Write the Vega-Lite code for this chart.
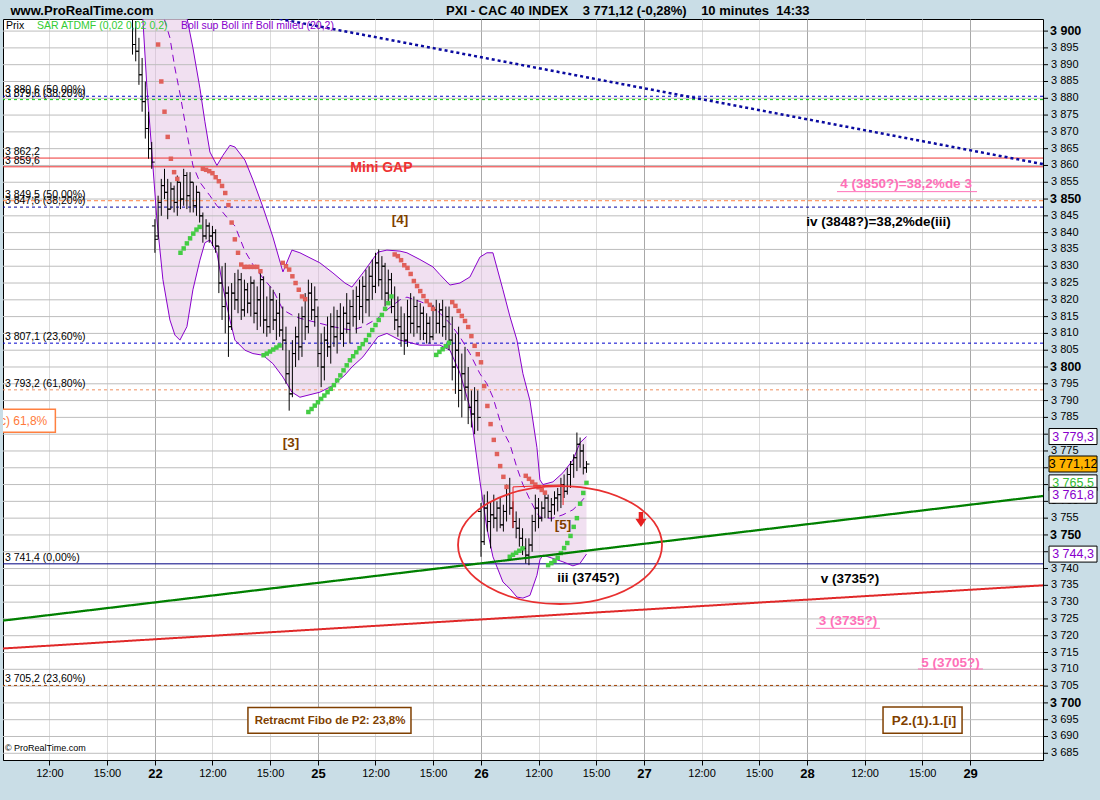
{
"$schema":"https://vega.github.io/schema/vega-lite/v6.json",
"width":1040,"height":741,
"autosize":{"type":"none"},
"padding":{"left":3,"top":19,"right":57,"bottom":40},
"background":"#c9dde6",
"config":{"view":{"stroke":"#000000","strokeWidth":1,"fill":"#ffffff"},"font":"Liberation Sans"},
"resolve":{"scale":{"color":"independent","fill":"independent","stroke":"independent","strokeDash":"independent","strokeWidth":"independent","size":"independent"}},
"datasets":{
"yt":[{"v":3685,"label":"3 685"},{"v":3690,"label":"3 690"},{"v":3695,"label":"3 695"},{"v":3700,"label":"3 700"},{"v":3705,"label":"3 705"},{"v":3710,"label":"3 710"},{"v":3715,"label":"3 715"},{"v":3720,"label":"3 720"},{"v":3725,"label":"3 725"},{"v":3730,"label":"3 730"},{"v":3735,"label":"3 735"},{"v":3740,"label":"3 740"},{"v":3745,"label":"3 745"},{"v":3750,"label":"3 750"},{"v":3755,"label":"3 755"},{"v":3760,"label":"3 760"},{"v":3765,"label":"3 765"},{"v":3770,"label":"3 770"},{"v":3775,"label":"3 775"},{"v":3780,"label":"3 780"},{"v":3785,"label":"3 785"},{"v":3790,"label":"3 790"},{"v":3795,"label":"3 795"},{"v":3800,"label":"3 800"},{"v":3805,"label":"3 805"},{"v":3810,"label":"3 810"},{"v":3815,"label":"3 815"},{"v":3820,"label":"3 820"},{"v":3825,"label":"3 825"},{"v":3830,"label":"3 830"},{"v":3835,"label":"3 835"},{"v":3840,"label":"3 840"},{"v":3845,"label":"3 845"},{"v":3850,"label":"3 850"},{"v":3855,"label":"3 855"},{"v":3860,"label":"3 860"},{"v":3865,"label":"3 865"},{"v":3870,"label":"3 870"},{"v":3875,"label":"3 875"},{"v":3880,"label":"3 880"},{"v":3885,"label":"3 885"},{"v":3890,"label":"3 890"},{"v":3895,"label":"3 895"},{"v":3900,"label":"3 900"}],
"bars":[
{"t":7.333,"o":3908,"h":3912,"l":3893,"c":3896},{"t":7.5,"o":3896,"h":3903,"l":3891,"c":3894},{"t":7.667,"o":3894,"h":3898,"l":3884,"c":3887},{"t":7.833,"o":3887,"h":3892,"l":3876,"c":3879},{"t":8,"o":3879,"h":3885,"l":3868,"c":3871},{"t":8.167,"o":3871,"h":3876,"l":3862,"c":3865},{"t":8.333,"o":3865,"h":3867,"l":3859,"c":3861},
{"t":8.5,"o":3842,"h":3844,"l":3834,"c":3838},{"t":8.667,"o":3839,"h":3851,"l":3838,"c":3849},{"t":8.833,"o":3849,"h":3856,"l":3845,"c":3854},{"t":9,"o":3854,"h":3859,"l":3850,"c":3852},{"t":9.167,"o":3852,"h":3856,"l":3844,"c":3847},{"t":9.333,"o":3847,"h":3855,"l":3847,"c":3853},{"t":9.5,"o":3853,"h":3854,"l":3846,"c":3849},{"t":9.667,"o":3849,"h":3857,"l":3845,"c":3855},{"t":9.833,"o":3855,"h":3855,"l":3847,"c":3850},{"t":10,"o":3850,"h":3859,"l":3848,"c":3857},{"t":10.167,"o":3857,"h":3858,"l":3847,"c":3851},{"t":10.333,"o":3851,"h":3858,"l":3846,"c":3855},{"t":10.5,"o":3855,"h":3855,"l":3846,"c":3848},{"t":10.667,"o":3848,"h":3854,"l":3845,"c":3852},{"t":10.833,"o":3852,"h":3852,"l":3843,"c":3845},{"t":11,"o":3845,"h":3846,"l":3837,"c":3839},{"t":11.167,"o":3839,"h":3844,"l":3838,"c":3842},{"t":11.333,"o":3842,"h":3843,"l":3837,"c":3839},{"t":11.5,"o":3839,"h":3842,"l":3836,"c":3840},{"t":11.667,"o":3840,"h":3841,"l":3834,"c":3836},{"t":11.833,"o":3836,"h":3836,"l":3822,"c":3825},{"t":12,"o":3825,"h":3830,"l":3814,"c":3818},{"t":12.167,"o":3818,"h":3831,"l":3810,"c":3822},{"t":12.333,"o":3822,"h":3824,"l":3803,"c":3812},{"t":12.5,"o":3812,"h":3825,"l":3811,"c":3822},{"t":12.667,"o":3822,"h":3828,"l":3817,"c":3820},{"t":12.833,"o":3820,"h":3829,"l":3816,"c":3826},{"t":13,"o":3826,"h":3828,"l":3814,"c":3817},{"t":13.167,"o":3817,"h":3826,"l":3815,"c":3823},{"t":13.333,"o":3823,"h":3825,"l":3816,"c":3819},{"t":13.5,"o":3819,"h":3827,"l":3815,"c":3825},{"t":13.667,"o":3825,"h":3826,"l":3813,"c":3816},{"t":13.833,"o":3816,"h":3824,"l":3811,"c":3820},{"t":14,"o":3820,"h":3829,"l":3812,"c":3826},{"t":14.167,"o":3826,"h":3827,"l":3810,"c":3814},{"t":14.333,"o":3814,"h":3821,"l":3809,"c":3812},{"t":14.5,"o":3812,"h":3824,"l":3810,"c":3820},{"t":14.667,"o":3820,"h":3823,"l":3811,"c":3814},{"t":14.833,"o":3814,"h":3820,"l":3808,"c":3816},{"t":15,"o":3816,"h":3822,"l":3809,"c":3811},{"t":15.167,"o":3811,"h":3818,"l":3805,"c":3808},{"t":15.333,"o":3808,"h":3812,"l":3795,"c":3798},{"t":15.5,"o":3798,"h":3805,"l":3787,"c":3792},{"t":15.667,"o":3792,"h":3808,"l":3791,"c":3804},{"t":15.833,"o":3804,"h":3812,"l":3800,"c":3809},{"t":16,"o":3809,"h":3816,"l":3802,"c":3806},{"t":16.167,"o":3806,"h":3818,"l":3803,"c":3815},{"t":16.333,"o":3815,"h":3822,"l":3808,"c":3812},{"t":16.5,"o":3812,"h":3826,"l":3810,"c":3822},{"t":16.667,"o":3822,"h":3825,"l":3814,"c":3817},{"t":16.833,"o":3817,"h":3824,"l":3812,"c":3820},
{"t":17,"o":3815,"h":3818,"l":3800,"c":3804},{"t":17.167,"o":3804,"h":3810,"l":3794,"c":3800},{"t":17.333,"o":3800,"h":3812,"l":3796,"c":3808},{"t":17.5,"o":3808,"h":3815,"l":3803,"c":3806},{"t":17.667,"o":3806,"h":3816,"l":3801,"c":3812},{"t":17.833,"o":3812,"h":3818,"l":3806,"c":3809},{"t":18,"o":3809,"h":3817,"l":3804,"c":3815},{"t":18.167,"o":3815,"h":3819,"l":3808,"c":3810},{"t":18.333,"o":3810,"h":3818,"l":3806,"c":3816},{"t":18.5,"o":3816,"h":3822,"l":3810,"c":3813},{"t":18.667,"o":3813,"h":3820,"l":3807,"c":3818},{"t":18.833,"o":3818,"h":3823,"l":3812,"c":3815},{"t":19,"o":3815,"h":3824,"l":3810,"c":3821},{"t":19.167,"o":3821,"h":3826,"l":3814,"c":3818},{"t":19.333,"o":3818,"h":3827,"l":3813,"c":3824},{"t":19.5,"o":3824,"h":3829,"l":3816,"c":3820},{"t":19.667,"o":3820,"h":3830,"l":3815,"c":3827},{"t":19.833,"o":3827,"h":3832,"l":3820,"c":3824},{"t":20,"o":3824,"h":3834,"l":3822,"c":3831},{"t":20.167,"o":3831,"h":3835,"l":3824,"c":3826},{"t":20.333,"o":3826,"h":3833,"l":3820,"c":3830},{"t":20.5,"o":3830,"h":3831,"l":3818,"c":3822},{"t":20.667,"o":3822,"h":3829,"l":3819.5,"c":3826},{"t":20.833,"o":3826,"h":3828,"l":3816,"c":3818},{"t":21,"o":3818,"h":3824,"l":3811,"c":3814},{"t":21.167,"o":3814,"h":3821,"l":3809,"c":3812},{"t":21.333,"o":3812,"h":3818,"l":3806,"c":3810},{"t":21.5,"o":3810,"h":3816,"l":3803.6,"c":3808},{"t":21.667,"o":3808,"h":3820,"l":3806,"c":3815},{"t":21.833,"o":3815,"h":3822,"l":3810,"c":3813},{"t":22,"o":3813,"h":3821,"l":3809,"c":3818},{"t":22.167,"o":3818,"h":3820,"l":3810,"c":3812},{"t":22.333,"o":3812,"h":3819,"l":3808,"c":3816},{"t":22.5,"o":3816,"h":3818,"l":3808,"c":3810},{"t":22.667,"o":3810,"h":3816,"l":3807,"c":3813},{"t":22.833,"o":3813,"h":3815,"l":3807,"c":3809},{"t":23,"o":3809,"h":3818.5,"l":3808,"c":3817},{"t":23.167,"o":3817,"h":3820,"l":3810,"c":3813},{"t":23.333,"o":3813,"h":3819,"l":3810,"c":3817},{"t":23.5,"o":3817,"h":3820,"l":3809,"c":3812},{"t":23.667,"o":3812,"h":3818,"l":3808,"c":3815},{"t":23.833,"o":3815,"h":3818,"l":3805,"c":3808},{"t":24,"o":3808,"h":3815,"l":3796,"c":3800},{"t":24.167,"o":3800,"h":3810,"l":3792,"c":3805},{"t":24.333,"o":3805,"h":3812,"l":3788,"c":3793},{"t":24.5,"o":3793,"h":3804,"l":3785,"c":3798},{"t":24.667,"o":3798,"h":3806,"l":3790,"c":3794},{"t":24.833,"o":3794,"h":3800,"l":3783,"c":3788},{"t":25,"o":3788,"h":3793,"l":3782,"c":3786},{"t":25.167,"o":3786,"h":3794,"l":3780,"c":3790},{"t":25.333,"o":3790,"h":3793,"l":3781,"c":3785},
{"t":25.5,"o":3757,"h":3759.5,"l":3743.5,"c":3748},{"t":25.667,"o":3748,"h":3762,"l":3747,"c":3758},{"t":25.833,"o":3758,"h":3763,"l":3751,"c":3754},{"t":26,"o":3754,"h":3760,"l":3746,"c":3756},{"t":26.167,"o":3756,"h":3762,"l":3752,"c":3755},{"t":26.333,"o":3755,"h":3760,"l":3751,"c":3758},{"t":26.5,"o":3758,"h":3761,"l":3752,"c":3753},{"t":26.667,"o":3753,"h":3759,"l":3751,"c":3757},{"t":26.833,"o":3757,"h":3765,"l":3754,"c":3762},{"t":27,"o":3762,"h":3767,"l":3756,"c":3758},{"t":27.167,"o":3758,"h":3760,"l":3752,"c":3754},{"t":27.333,"o":3754,"h":3757,"l":3749,"c":3752},{"t":27.5,"o":3752,"h":3755,"l":3746.5,"c":3749},{"t":27.667,"o":3749,"h":3752,"l":3744,"c":3746},{"t":27.833,"o":3746,"h":3749,"l":3741.5,"c":3744},{"t":28,"o":3744,"h":3749,"l":3741,"c":3747},{"t":28.167,"o":3747,"h":3756,"l":3745,"c":3754},{"t":28.333,"o":3754,"h":3762,"l":3751,"c":3758},{"t":28.5,"o":3758,"h":3761,"l":3752,"c":3755},{"t":28.667,"o":3755,"h":3760,"l":3754,"c":3758},{"t":28.833,"o":3758,"h":3763,"l":3755,"c":3761},{"t":29,"o":3761,"h":3762,"l":3755,"c":3757},{"t":29.167,"o":3757,"h":3761,"l":3754,"c":3759},{"t":29.333,"o":3759,"h":3763,"l":3756,"c":3761},{"t":29.5,"o":3761,"h":3764,"l":3757,"c":3762},{"t":29.667,"o":3762,"h":3767,"l":3758,"c":3765},{"t":29.833,"o":3765,"h":3768,"l":3761,"c":3763},{"t":30,"o":3763,"h":3770,"l":3762,"c":3768},{"t":30.167,"o":3768,"h":3772,"l":3764,"c":3771},{"t":30.333,"o":3771,"h":3774,"l":3767,"c":3773},{"t":30.5,"o":3773,"h":3780.5,"l":3769,"c":3777},{"t":30.667,"o":3777,"h":3779,"l":3770,"c":3775},{"t":30.833,"o":3775,"h":3777,"l":3768,"c":3770},{"t":31,"o":3770,"h":3772,"l":3768.5,"c":3771.1}
],
"sar":[
{"t":8.667,"v":3896,"s":"r"},{"t":8.833,"v":3885,"s":"r"},{"t":9,"v":3876,"s":"r"},{"t":9.167,"v":3868.5,"s":"r"},{"t":9.333,"v":3862,"s":"r"},{"t":9.5,"v":3858,"s":"r"},{"t":9.667,"v":3856,"s":"r"},
{"t":9.833,"v":3834,"s":"g"},{"t":10,"v":3835.3,"s":"g"},{"t":10.167,"v":3836.8,"s":"g"},{"t":10.333,"v":3838.3,"s":"g"},{"t":10.5,"v":3839.7,"s":"g"},{"t":10.667,"v":3840.9,"s":"g"},{"t":10.833,"v":3841.7,"s":"g"},
{"t":11,"v":3859,"s":"r"},{"t":11.167,"v":3858.7,"s":"r"},{"t":11.333,"v":3858.3,"s":"r"},{"t":11.5,"v":3857.7,"s":"r"},{"t":11.667,"v":3856.5,"s":"r"},{"t":11.833,"v":3855.3,"s":"r"},{"t":12,"v":3853.9,"s":"r"},{"t":12.167,"v":3851.8,"s":"r"},{"t":12.333,"v":3848.2,"s":"r"},{"t":12.5,"v":3843,"s":"r"},{"t":12.667,"v":3838,"s":"r"},{"t":12.833,"v":3834,"s":"r"},{"t":13,"v":3830.5,"s":"r"},{"t":13.167,"v":3829.8,"s":"r"},{"t":13.333,"v":3829.8,"s":"r"},{"t":13.5,"v":3829.8,"s":"r"},{"t":13.667,"v":3829.8,"s":"r"},{"t":13.833,"v":3829.8,"s":"r"},{"t":14,"v":3828.5,"s":"r"},
{"t":14.167,"v":3803.5,"s":"g"},{"t":14.333,"v":3804,"s":"g"},{"t":14.5,"v":3804.6,"s":"g"},{"t":14.667,"v":3805.2,"s":"g"},{"t":14.833,"v":3805.8,"s":"g"},{"t":15,"v":3806.4,"s":"g"},
{"t":15.167,"v":3831,"s":"r"},{"t":15.333,"v":3830,"s":"r"},{"t":15.5,"v":3829,"s":"r"},{"t":15.667,"v":3827,"s":"r"},{"t":15.833,"v":3825,"s":"r"},{"t":16,"v":3823,"s":"r"},{"t":16.167,"v":3821,"s":"r"},{"t":16.333,"v":3820.2,"s":"r"},
{"t":16.5,"v":3786.6,"s":"g"},{"t":16.667,"v":3787.5,"s":"g"},{"t":16.833,"v":3788.5,"s":"g"},{"t":17,"v":3789.5,"s":"g"},{"t":17.167,"v":3790.5,"s":"g"},{"t":17.333,"v":3791.5,"s":"g"},{"t":17.5,"v":3792.5,"s":"g"},{"t":17.667,"v":3793.5,"s":"g"},{"t":17.833,"v":3794.6,"s":"g"},{"t":18,"v":3796,"s":"g"},{"t":18.167,"v":3797.5,"s":"g"},{"t":18.333,"v":3799,"s":"g"},{"t":18.5,"v":3800.5,"s":"g"},{"t":18.667,"v":3802,"s":"g"},{"t":18.833,"v":3803.2,"s":"g"},{"t":19,"v":3804.4,"s":"g"},{"t":19.167,"v":3805.6,"s":"g"},{"t":19.333,"v":3806.8,"s":"g"},{"t":19.5,"v":3808,"s":"g"},{"t":19.667,"v":3809.5,"s":"g"},{"t":19.833,"v":3811,"s":"g"},{"t":20,"v":3812.5,"s":"g"},{"t":20.167,"v":3814,"s":"g"},{"t":20.333,"v":3815.5,"s":"g"},{"t":20.5,"v":3817.3,"s":"g"},{"t":20.667,"v":3819,"s":"g"},{"t":20.833,"v":3821,"s":"g"},
{"t":21,"v":3833.5,"s":"r"},{"t":21.167,"v":3833,"s":"r"},{"t":21.333,"v":3831.8,"s":"r"},{"t":21.5,"v":3830.3,"s":"r"},{"t":21.667,"v":3829.5,"s":"r"},{"t":21.833,"v":3827.7,"s":"r"},{"t":22,"v":3825.6,"s":"r"},{"t":22.167,"v":3824.1,"s":"r"},{"t":22.333,"v":3822.6,"s":"r"},{"t":22.5,"v":3821.1,"s":"r"},{"t":22.667,"v":3819.6,"s":"r"},{"t":22.833,"v":3818.5,"s":"r"},{"t":23,"v":3817.3,"s":"r"},
{"t":23.167,"v":3803.6,"s":"g"},{"t":23.333,"v":3804.5,"s":"g"},{"t":23.5,"v":3805.3,"s":"g"},{"t":23.667,"v":3806.2,"s":"g"},{"t":23.833,"v":3807.2,"s":"g"},
{"t":24,"v":3819.3,"s":"r"},{"t":24.167,"v":3818.2,"s":"r"},{"t":24.333,"v":3816.7,"s":"r"},{"t":24.5,"v":3815.2,"s":"r"},{"t":24.667,"v":3813.7,"s":"r"},{"t":24.833,"v":3811.9,"s":"r"},{"t":25,"v":3809.2,"s":"r"},{"t":25.167,"v":3806.3,"s":"r"},{"t":25.333,"v":3803.8,"s":"r"},{"t":25.5,"v":3801.4,"s":"r"},{"t":25.667,"v":3794.3,"s":"r"},{"t":25.833,"v":3788.4,"s":"r"},{"t":26,"v":3783,"s":"r"},{"t":26.167,"v":3778.3,"s":"r"},{"t":26.333,"v":3774.1,"s":"r"},{"t":26.5,"v":3770.5,"s":"r"},{"t":26.667,"v":3767.3,"s":"r"},{"t":26.833,"v":3764.3,"s":"r"},
{"t":27,"v":3743.5,"s":"g"},{"t":27.167,"v":3744.1,"s":"g"},{"t":27.333,"v":3744.7,"s":"g"},{"t":27.5,"v":3745.3,"s":"g"},{"t":27.667,"v":3746,"s":"g"},
{"t":27.833,"v":3767.6,"s":"r"},{"t":28,"v":3766.7,"s":"r"},{"t":28.167,"v":3765.8,"s":"r"},{"t":28.333,"v":3765,"s":"r"},{"t":28.5,"v":3764.2,"s":"r"},{"t":28.667,"v":3763.4,"s":"r"},{"t":28.833,"v":3762.6,"s":"r"},
{"t":29,"v":3741,"s":"g"},{"t":29.167,"v":3741.6,"s":"g"},{"t":29.333,"v":3742.3,"s":"g"},{"t":29.5,"v":3743.2,"s":"g"},{"t":29.667,"v":3744.6,"s":"g"},{"t":29.833,"v":3746.1,"s":"g"},{"t":30,"v":3747.6,"s":"g"},{"t":30.167,"v":3749.7,"s":"g"},{"t":30.333,"v":3752.4,"s":"g"},{"t":30.5,"v":3755,"s":"g"},{"t":30.667,"v":3759.3,"s":"g"},{"t":30.833,"v":3762.5,"s":"g"},{"t":31,"v":3765.5,"s":"g"}
],
"boll":[
{"t":7.718,"up":4000,"mid":3960,"lo":3912},{"t":7.874,"up":3995,"mid":3950,"lo":3903.3},{"t":8.083,"up":3985,"mid":3938,"lo":3883.3},{"t":8.344,"up":3975,"mid":3925,"lo":3863.7},{"t":8.604,"up":3965,"mid":3915,"lo":3843.8},{"t":8.917,"up":3955,"mid":3905,"lo":3826},{"t":9.282,"up":3945,"mid":3898,"lo":3814},{"t":9.543,"up":3935,"mid":3889,"lo":3809.5},{"t":9.803,"up":3920,"mid":3881.5,"lo":3808},{"t":10.168,"up":3904,"mid":3869.6,"lo":3812},{"t":10.481,"up":3895,"mid":3860,"lo":3823},{"t":10.846,"up":3883,"mid":3855,"lo":3831.8},{"t":11.107,"up":3873,"mid":3853,"lo":3837},{"t":11.368,"up":3864,"mid":3851,"lo":3837.8},{"t":11.733,"up":3860,"mid":3848,"lo":3834},{"t":12.045,"up":3863,"mid":3846,"lo":3823.8},{"t":12.41,"up":3866,"mid":3843.5,"lo":3814},{"t":12.671,"up":3865.5,"mid":3842,"lo":3808},{"t":13.192,"up":3861.6,"mid":3834.5,"lo":3805},{"t":13.61,"up":3855.7,"mid":3830.5,"lo":3804},{"t":14.131,"up":3847.6,"mid":3826.5,"lo":3803.5},{"t":14.652,"up":3838.7,"mid":3823,"lo":3801},{"t":15.174,"up":3828.3,"mid":3817,"lo":3797},{"t":15.643,"up":3834.8,"mid":3815.5,"lo":3792.5},{"t":16.06,"up":3834,"mid":3814.5,"lo":3791},{"t":17.103,"up":3831,"mid":3813,"lo":3792.5},{"t":17.781,"up":3828,"mid":3812,"lo":3794.5},{"t":18.406,"up":3825,"mid":3811.3,"lo":3797.6},{"t":18.771,"up":3823.8,"mid":3811,"lo":3800},{"t":19.345,"up":3828,"mid":3812,"lo":3803},{"t":20.127,"up":3834.2,"mid":3814.5,"lo":3809},{"t":20.596,"up":3834.8,"mid":3817,"lo":3810},{"t":21.274,"up":3834.5,"mid":3820,"lo":3808},{"t":21.639,"up":3834,"mid":3820.8,"lo":3807.5},{"t":22.316,"up":3832,"mid":3819.5,"lo":3806.5},{"t":22.994,"up":3829.8,"mid":3818,"lo":3806.5},{"t":23.359,"up":3827.5,"mid":3816,"lo":3806.5},{"t":23.88,"up":3824.4,"mid":3813,"lo":3805},{"t":24.402,"up":3825,"mid":3809,"lo":3798.2},{"t":24.923,"up":3826.8,"mid":3804,"lo":3788},{"t":25.444,"up":3832.7,"mid":3798,"lo":3766},{"t":25.809,"up":3834,"mid":3795,"lo":3752},{"t":26.122,"up":3834,"mid":3791,"lo":3743.5},{"t":26.644,"up":3823,"mid":3781,"lo":3736},{"t":27.009,"up":3815,"mid":3777,"lo":3734},{"t":27.374,"up":3808,"mid":3770,"lo":3731.5},{"t":27.686,"up":3798,"mid":3765,"lo":3731.2},{"t":28.051,"up":3790,"mid":3760.5,"lo":3732},{"t":28.416,"up":3776,"mid":3756.5,"lo":3738},{"t":28.573,"up":3766.4,"mid":3755.4,"lo":3742.6},{"t":28.729,"up":3765,"mid":3755,"lo":3744},{"t":29.25,"up":3765.8,"mid":3755,"lo":3743},{"t":29.772,"up":3768.5,"mid":3756,"lo":3742},{"t":30.293,"up":3772.3,"mid":3757.5,"lo":3740.8},{"t":30.658,"up":3777.4,"mid":3759.5,"lo":3741.5},{"t":31,"up":3779.3,"mid":3761.8,"lo":3744.3}
],
"hl":[
{"id":"b50","v":3880.6,"label":"3 880,6 (50,00%)"},{"id":"g38","v":3879.6,"label":"3 879,6 (38,20%)"},{"id":"r1","v":3862.2,"label":"3 862,2"},{"id":"r2","v":3859.6,"label":"3 859,6"},{"id":"o50","v":3849.5,"label":"3 849,5 (50,00%)"},{"id":"n38","v":3847.6,"label":"3 847,6 (38,20%)"},{"id":"b23","v":3807.1,"label":"3 807,1 (23,60%)"},{"id":"o61","v":3793.2,"label":"3 793,2 (61,80%)"},{"id":"n0","v":3741.4,"label":"3 741,4 (0,00%)"},{"id":"br23","v":3705.2,"label":"3 705,2 (23,60%)"}
],
"tl":[
{"id":"blue","t":13.46,"v":3905.3},{"id":"blue","t":54.8,"v":3860.4},{"id":"green","t":0.58,"v":3724.5},{"id":"green","t":54.8,"v":3761.6},{"id":"red","t":0.58,"v":3716.2},{"id":"red","t":54.8,"v":3735.0}
],
"brk":[{"o":1,"t":27.17,"v":3752.1},{"o":2,"t":27.17,"v":3764.3},{"o":3,"t":29.78,"v":3764.9},{"o":4,"t":29.78,"v":3758.9}],
"notes":[
{"t":21.28,"v":3843.8,"text":"[4]","style":"br"},{"t":15.59,"v":3777.4,"text":"[3]","style":"br"},{"t":29.78,"v":3752.9,"text":"[5]","style":"br"},{"t":48.6,"v":3694.6,"text":"P2.(1).1.[i]","style":"br"},{"t":31.1,"v":3737.2,"text":"iii (3745?)","style":"bk"},{"t":46.22,"v":3843.2,"text":"iv (3848?)=38,2%de(iii)","style":"bk"},{"t":44.74,"v":3736.9,"text":"v (3735?)","style":"bk"},{"t":47.66,"v":3854.5,"text":"4 (3850?)=38,2%de 3","style":"pk"},{"t":44.63,"v":3724.4,"text":"3 (3735?)","style":"pk"},{"t":49.98,"v":3712.0,"text":"5 (3705?)","style":"pk"}
],
"ul":[{"t1":44.06,"t2":51.36,"v":3852.2},{"t1":42.97,"t2":46.3,"v":3722.2},{"t1":48.28,"t2":51.67,"v":3710.1}],
"boxes":[{"t1":13.35,"t2":21.85,"v1":3698.6,"v2":3691.0,"c":"br"},{"t1":46.46,"t2":50.58,"v1":3698.8,"v2":3691.0,"c":"br"},{"t1":0.3,"t2":3.31,"v1":3787.4,"v2":3780.6,"c":"or"}],
"leg":[{"t":0.74,"v":3901.5,"text":"Prix","c":"k"},{"t":2.35,"v":3901.5,"text":"SAR ATDMF (0,02 0,02 0,2)","c":"g"},{"t":9.86,"v":3901.5,"text":"Boll sup Boll inf Boll milieu (20,2)","c":"p"}],
"badges":[{"v":3779.3,"label":"3 779,3","k":"boll"},{"v":3765.5,"label":"3 765,5","k":"sar"},{"v":3761.8,"label":"3 761,8","k":"boll"},{"v":3744.3,"label":"3 744,3","k":"boll"},{"v":3771.12,"label":"3 771,12","k":"price"}]
},
"layer":[
{"data":{"name":"boll"},"mark":{"type":"area","color":"#ecd6ec","opacity":0.75,"clip":true},
 "encoding":{
  "x":{"field":"t","type":"quantitative","scale":{"domain":[0.58,54.8],"nice":false,"zero":false},
   "axis":{"values":[3,6,8.5,11.5,14.5,17,20,23,25.5,28.5,31.5,34,37,40,42.5,45.5,48.5,51],"labelExpr":"datum.value==8.5?'22':datum.value==17?'25':datum.value==25.5?'26':datum.value==34?'27':datum.value==42.5?'28':datum.value==51?'29':(datum.value%8.5==3?'12:00':'15:00')","labelFontWeight":{"condition":{"test":"datum.value%8.5==0","value":"bold"},"value":"normal"},"labelFontSize":{"condition":{"test":"datum.value%8.5==0","value":13},"value":11},"gridColor":{"condition":{"test":"datum.value%8.5==0","value":"#a8a8a8"},"value":"#dcdcdc"},"grid":true,"tickSize":5,"tickColor":"#000000","domainColor":"#000000","labelColor":"#000000","labelPadding":2,"labelOverlap":false,"labelFlush":false,"labelFont":"Liberation Sans",
    "title":"www.ProRealTime.com\u00a0\u00a0\u00a0\u00a0\u00a0\u00a0\u00a0\u00a0\u00a0\u00a0\u00a0\u00a0\u00a0\u00a0\u00a0\u00a0\u00a0\u00a0\u00a0\u00a0\u00a0\u00a0\u00a0\u00a0\u00a0\u00a0\u00a0\u00a0\u00a0\u00a0\u00a0\u00a0\u00a0\u00a0\u00a0\u00a0\u00a0\u00a0\u00a0\u00a0\u00a0\u00a0\u00a0\u00a0\u00a0\u00a0\u00a0\u00a0\u00a0\u00a0\u00a0\u00a0\u00a0\u00a0\u00a0\u00a0\u00a0\u00a0\u00a0\u00a0\u00a0\u00a0\u00a0\u00a0\u00a0\u00a0\u00a0\u00a0\u00a0\u00a0\u00a0\u00a0\u00a0\u00a0\u00a0\u00a0\u00a0\u00a0\u00a0\u00a0\u00a0PXI - CAC 40 INDEX\u00a0\u00a0\u00a0\u00a03 771,12 (-0,28%)\u00a0\u00a0\u00a0\u00a010 minutes\u00a0\u00a014:33",
    "titleX":7,"titleY":-746,"titleAlign":"left","titleAngle":0,"titleBaseline":"alphabetic","titleFontSize":13,"titleFontWeight":"bold","titleColor":"#000000","titleFont":"Liberation Sans","titleLimit":1100}},
  "y":{"field":"lo","type":"quantitative","scale":{"domain":[3683,3903.6],"nice":false,"zero":false},"axis":null},
  "y2":{"field":"up"}}},
{"data":{"name":"yt"},"mark":{"type":"rule","color":"#bdbdbd","strokeWidth":1,"opacity":1},
 "encoding":{"y":{"field":"v","type":"quantitative","scale":{"domain":[3683,3903.6],"nice":false,"zero":false},"axis":null}}},
{"data":{"name":"yt"},"mark":{"type":"tick","orient":"horizontal","size":5,"thickness":1,"color":"#000000","xOffset":2.5,"opacity":1},
 "encoding":{"x":{"datum":54.8,"type":"quantitative","scale":{"domain":[0.58,54.8],"nice":false,"zero":false}},"y":{"field":"v","type":"quantitative","scale":{"domain":[3683,3903.6],"nice":false,"zero":false},"axis":null}}},
{"data":{"name":"yt"},"transform":[{"filter":"datum.v % 50 != 0"}],"mark":{"type":"text","align":"left","baseline":"middle","dx":8,"fontSize":11,"font":"Liberation Sans","color":"#000000"},
 "encoding":{"x":{"datum":54.8,"type":"quantitative","scale":{"domain":[0.58,54.8],"nice":false,"zero":false}},"y":{"field":"v","type":"quantitative","scale":{"domain":[3683,3903.6],"nice":false,"zero":false},"axis":null},"text":{"field":"label"}}},
{"data":{"name":"yt"},"transform":[{"filter":"datum.v % 50 == 0"}],"mark":{"type":"text","align":"left","baseline":"middle","dx":7,"fontSize":12.5,"fontWeight":"bold","font":"Liberation Sans","color":"#000000"},
 "encoding":{"x":{"datum":54.8,"type":"quantitative","scale":{"domain":[0.58,54.8],"nice":false,"zero":false}},"y":{"field":"v","type":"quantitative","scale":{"domain":[3683,3903.6],"nice":false,"zero":false},"axis":null},"text":{"field":"label"}}},
{"data":{"name":"hl"},"mark":{"type":"rule"},
 "encoding":{
  "y":{"field":"v","type":"quantitative","scale":{"domain":[3683,3903.6],"nice":false,"zero":false},"axis":null},
  "color":{"field":"id","type":"nominal","scale":{"domain":["b50","g38","r1","r2","o50","n38","b23","o61","n0","br23"],"range":["#0000cc","#00cc00","#ee3333","#ee3333","#ff8040","#0000a0","#0000cc","#f09060","#000080","#a04000"]},"legend":null},
  "strokeDash":{"field":"id","type":"nominal","scale":{"domain":["b50","g38","r1","r2","o50","n38","b23","o61","n0","br23"],"range":[[3,3],[3,3],[1,0],[1,0],[4,3],[3,3],[3,3],[3,3],[1,0],[3,3]]},"legend":null},
  "strokeWidth":{"field":"id","type":"ordinal","scale":{"domain":["b50","g38","r1","r2","o50","n38","b23","o61","n0","br23"],"range":[1,1,1,1,1,2.5,1,1,1,1]},"legend":null}}},
{"data":{"name":"boll"},"mark":{"type":"line","color":"#8800cc","strokeWidth":1,"clip":true},
 "encoding":{"x":{"field":"t","type":"quantitative","scale":{"domain":[0.58,54.8],"nice":false,"zero":false}},"y":{"field":"up","type":"quantitative","scale":{"domain":[3683,3903.6],"nice":false,"zero":false},"axis":null}}},
{"data":{"name":"boll"},"mark":{"type":"line","color":"#8800cc","strokeWidth":1,"clip":true},
 "encoding":{"x":{"field":"t","type":"quantitative","scale":{"domain":[0.58,54.8],"nice":false,"zero":false}},"y":{"field":"lo","type":"quantitative","scale":{"domain":[3683,3903.6],"nice":false,"zero":false},"axis":null}}},
{"data":{"name":"boll"},"mark":{"type":"line","color":"#8800cc","strokeWidth":1,"strokeDash":[7,5],"clip":true},
 "encoding":{"x":{"field":"t","type":"quantitative","scale":{"domain":[0.58,54.8],"nice":false,"zero":false}},"y":{"field":"mid","type":"quantitative","scale":{"domain":[3683,3903.6],"nice":false,"zero":false},"axis":null}}},
{"data":{"name":"bars"},"mark":{"type":"rule","color":"#000000","strokeWidth":1,"clip":true},
 "encoding":{"x":{"field":"t","type":"quantitative","scale":{"domain":[0.58,54.8],"nice":false,"zero":false}},"y":{"field":"l","type":"quantitative","scale":{"domain":[3683,3903.6],"nice":false,"zero":false},"axis":null},"y2":{"field":"h"}}},
{"data":{"name":"bars"},"mark":{"type":"tick","orient":"horizontal","size":3,"thickness":1,"color":"#000000","xOffset":-1.5,"opacity":1,"clip":true},
 "encoding":{"x":{"field":"t","type":"quantitative","scale":{"domain":[0.58,54.8],"nice":false,"zero":false}},"y":{"field":"o","type":"quantitative","scale":{"domain":[3683,3903.6],"nice":false,"zero":false},"axis":null}}},
{"data":{"name":"bars"},"mark":{"type":"tick","orient":"horizontal","size":3,"thickness":1,"color":"#000000","xOffset":1.5,"opacity":1,"clip":true},
 "encoding":{"x":{"field":"t","type":"quantitative","scale":{"domain":[0.58,54.8],"nice":false,"zero":false}},"y":{"field":"c","type":"quantitative","scale":{"domain":[3683,3903.6],"nice":false,"zero":false},"axis":null}}},
{"data":{"name":"sar"},"mark":{"type":"square","size":20,"opacity":1,"clip":true},
 "encoding":{"x":{"field":"t","type":"quantitative","scale":{"domain":[0.58,54.8],"nice":false,"zero":false}},"y":{"field":"v","type":"quantitative","scale":{"domain":[3683,3903.6],"nice":false,"zero":false},"axis":null},
  "color":{"field":"s","type":"nominal","scale":{"domain":["r","g"],"range":["#e0605a","#44cc44"]},"legend":null}}},
{"data":{"name":"tl"},"mark":{"type":"line","clip":true},
 "encoding":{"x":{"field":"t","type":"quantitative","scale":{"domain":[0.58,54.8],"nice":false,"zero":false}},"y":{"field":"v","type":"quantitative","scale":{"domain":[3683,3903.6],"nice":false,"zero":false},"axis":null},
  "color":{"field":"id","type":"nominal","scale":{"domain":["blue","green","red"],"range":["#0a0aa0","#008000","#e02828"]},"legend":null},
  "strokeDash":{"field":"id","type":"nominal","scale":{"domain":["blue","green","red"],"range":[[3,3],[1,0],[1,0]]},"legend":null},
  "strokeWidth":{"field":"id","type":"ordinal","scale":{"domain":["blue","green","red"],"range":[2.5,2,2]},"legend":null}}},
{"data":{"name":"brk"},"mark":{"type":"line","color":"#ee2222","strokeWidth":1},
 "encoding":{"x":{"field":"t","type":"quantitative","scale":{"domain":[0.58,54.8],"nice":false,"zero":false}},"y":{"field":"v","type":"quantitative","scale":{"domain":[3683,3903.6],"nice":false,"zero":false},"axis":null},"order":{"field":"o"}}},
{"data":{"values":[{"t":29.62,"v":3747.0}]},"mark":{"type":"point","shape":"M-1,0A1,0.578,0,1,0,1,0A1,0.578,0,1,0,-1,0Z","size":41616,"filled":false,"color":"#e83030","strokeWidth":1.8,"opacity":1},
 "encoding":{"x":{"field":"t","type":"quantitative","scale":{"domain":[0.58,54.8],"nice":false,"zero":false}},"y":{"field":"v","type":"quantitative","scale":{"domain":[3683,3903.6],"nice":false,"zero":false},"axis":null}}},
{"data":{"values":[{"t":33.84,"v":3754.6}]},"mark":{"type":"point","shape":"M-0.3,-1L0.3,-1L0.3,-0.1L0.75,-0.1L0,1L-0.75,-0.1L-0.3,-0.1Z","size":225,"filled":true,"color":"#e82020","opacity":1},
 "encoding":{"x":{"field":"t","type":"quantitative","scale":{"domain":[0.58,54.8],"nice":false,"zero":false}},"y":{"field":"v","type":"quantitative","scale":{"domain":[3683,3903.6],"nice":false,"zero":false},"axis":null}}},
{"data":{"name":"ul"},"mark":{"type":"rule","color":"#ff70b8","strokeWidth":1},
 "encoding":{"x":{"field":"t1","type":"quantitative","scale":{"domain":[0.58,54.8],"nice":false,"zero":false}},"x2":{"field":"t2"},"y":{"field":"v","type":"quantitative","scale":{"domain":[3683,3903.6],"nice":false,"zero":false},"axis":null}}},
{"data":{"name":"boxes"},"mark":{"type":"rect","fill":"#ffffff","strokeWidth":1.5,"clip":true},
 "encoding":{"x":{"field":"t1","type":"quantitative","scale":{"domain":[0.58,54.8],"nice":false,"zero":false}},"x2":{"field":"t2"},"y":{"field":"v1","type":"quantitative","scale":{"domain":[3683,3903.6],"nice":false,"zero":false},"axis":null},"y2":{"field":"v2"},
  "stroke":{"field":"c","type":"nominal","scale":{"domain":["br","or"],"range":["#7f3f00","#ff8040"]},"legend":null}}},
{"data":{"name":"hl"},"mark":{"type":"text","align":"left","baseline":"alphabetic","dy":-3,"fontSize":10.5,"font":"Liberation Sans","color":"#000000"},
 "encoding":{"x":{"datum":0.68,"type":"quantitative","scale":{"domain":[0.58,54.8],"nice":false,"zero":false}},"y":{"field":"v","type":"quantitative","scale":{"domain":[3683,3903.6],"nice":false,"zero":false},"axis":null},"text":{"field":"label"}}},
{"data":{"name":"notes"},"mark":{"type":"text","align":"center","baseline":"middle","fontWeight":"bold","fontSize":13.5,"font":"Liberation Sans"},
 "encoding":{"x":{"field":"t","type":"quantitative","scale":{"domain":[0.58,54.8],"nice":false,"zero":false}},"y":{"field":"v","type":"quantitative","scale":{"domain":[3683,3903.6],"nice":false,"zero":false},"axis":null},"text":{"field":"text"},
  "color":{"field":"style","type":"nominal","scale":{"domain":["br","bk","pk"],"range":["#7f3f00","#000000","#ff70b8"]},"legend":null}}},
{"data":{"values":[{"t":17.63,"v":3694.6,"text":"Retracmt Fibo de P2: 23,8%"}]},"mark":{"type":"text","align":"center","baseline":"middle","fontWeight":"bold","fontSize":11.5,"font":"Liberation Sans","color":"#7f3f00"},
 "encoding":{"x":{"field":"t","type":"quantitative","scale":{"domain":[0.58,54.8],"nice":false,"zero":false}},"y":{"field":"v","type":"quantitative","scale":{"domain":[3683,3903.6],"nice":false,"zero":false},"axis":null},"text":{"field":"text"}}},
{"data":{"values":[{"t":20.31,"v":3859.1,"text":"Mini GAP"}]},"mark":{"type":"text","align":"center","baseline":"middle","fontWeight":"bold","fontSize":14,"font":"Liberation Sans","color":"#ee3333"},
 "encoding":{"x":{"field":"t","type":"quantitative","scale":{"domain":[0.58,54.8],"nice":false,"zero":false}},"y":{"field":"v","type":"quantitative","scale":{"domain":[3683,3903.6],"nice":false,"zero":false},"axis":null},"text":{"field":"text"}}},
{"data":{"values":[{"t":0.42,"v":3783.9,"text":"c) 61,8%"}]},"mark":{"type":"text","align":"left","baseline":"middle","fontSize":12,"font":"Liberation Sans","color":"#ff7a3a","clip":true},
 "encoding":{"x":{"field":"t","type":"quantitative","scale":{"domain":[0.58,54.8],"nice":false,"zero":false}},"y":{"field":"v","type":"quantitative","scale":{"domain":[3683,3903.6],"nice":false,"zero":false},"axis":null},"text":{"field":"text"}}},
{"data":{"name":"leg"},"mark":{"type":"text","align":"left","baseline":"middle","fontSize":10.5,"font":"Liberation Sans"},
 "encoding":{"x":{"field":"t","type":"quantitative","scale":{"domain":[0.58,54.8],"nice":false,"zero":false}},"y":{"field":"v","type":"quantitative","scale":{"domain":[3683,3903.6],"nice":false,"zero":false},"axis":null},"text":{"field":"text"},
  "color":{"field":"c","type":"nominal","scale":{"domain":["k","g","p"],"range":["#000000","#33cc33","#8800cc"]},"legend":null}}},
{"data":{"values":[{"t":0.68,"v":3686.6,"text":"© ProRealTime.com"}]},"mark":{"type":"text","align":"left","baseline":"middle","fontSize":9,"font":"Liberation Sans","color":"#000000"},
 "encoding":{"x":{"field":"t","type":"quantitative","scale":{"domain":[0.58,54.8],"nice":false,"zero":false}},"y":{"field":"v","type":"quantitative","scale":{"domain":[3683,3903.6],"nice":false,"zero":false},"axis":null},"text":{"field":"text"}}},
{"data":{"name":"badges"},"mark":{"type":"point","shape":"M-1,-0.333L1,-0.333L1,0.333L-1,0.333Z","size":2304,"filled":true,"stroke":"#000000","strokeWidth":1,"opacity":1,"xOffset":30},
 "encoding":{"x":{"datum":54.8,"type":"quantitative","scale":{"domain":[0.58,54.8],"nice":false,"zero":false}},"y":{"field":"v","type":"quantitative","scale":{"domain":[3683,3903.6],"nice":false,"zero":false},"axis":null},
  "fill":{"field":"k","type":"nominal","scale":{"domain":["boll","sar","price"],"range":["#ffffff","#ffffff","#ffb300"]},"legend":null}}},
{"data":{"name":"badges"},"mark":{"type":"text","align":"center","baseline":"middle","dx":30,"fontSize":12.5,"font":"Liberation Sans"},
 "encoding":{"x":{"datum":54.8,"type":"quantitative","scale":{"domain":[0.58,54.8],"nice":false,"zero":false}},"y":{"field":"v","type":"quantitative","scale":{"domain":[3683,3903.6],"nice":false,"zero":false},"axis":null},"text":{"field":"label"},
  "color":{"field":"k","type":"nominal","scale":{"domain":["boll","sar","price"],"range":["#8800cc","#33bb33","#000000"]},"legend":null}}}
]
}
